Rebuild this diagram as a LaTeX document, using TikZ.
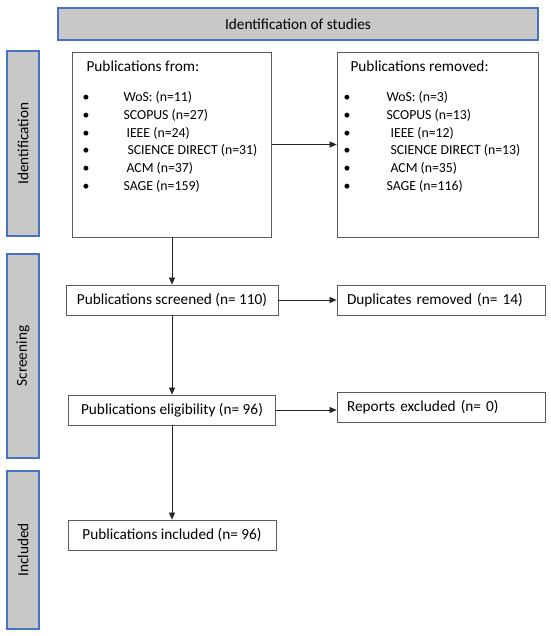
\documentclass[tikz,border=0pt]{standalone}
\usepackage{fontspec}
\setmainfont{Carlito}
\usetikzlibrary{arrows.meta}
\definecolor{barfill}{RGB}{200,200,200}
\definecolor{barline}{RGB}{68,114,196}
\definecolor{boxline}{RGB}{90,90,90}
\begin{document}
\begin{tikzpicture}[x=1pt,y=-1pt,>={Triangle[length=7pt,width=6pt]},
    every node/.style={font=\fontsize{15.3}{18}\selectfont},
    item/.style={font=\fontsize{13.8}{16}\selectfont,anchor=base west},
    bar/.style={draw=barline,fill=barfill,line width=1.2pt,inner sep=0pt},
    stage/.style={draw=boxline,line width=0.8pt,inner sep=0pt,minimum height=30},
    flow/.style={->,draw=black!85,line width=0.7pt}]
    \useasboundingbox (0,0) rectangle (550,636);
    % phase bars
    \node[bar,minimum width=480,minimum height=32] (head) at (298,24) {Identification of studies};
    \node[bar,minimum width=185,minimum height=32,rotate=90] (ident) at (23,143.5) {Identification};
    \node[bar,minimum width=204,minimum height=32,rotate=90] (screen) at (23,356) {Screening};
    \node[bar,minimum width=158,minimum height=32,rotate=90] (incl) at (23,550) {Included};
    % source and removed lists
    \node[stage,minimum width=199,minimum height=185] (src) at (172,144.5) {};
    \node[stage,minimum width=201,minimum height=185] (removed) at (437.5,144.5) {};
    \node[anchor=base west] (srctitle) at (83,72) {Publications from:};
    \node[anchor=base west] (remtitle) at (347,72) {Publications removed:};
    \foreach \lbl/\dx [count=\i] in {{WoS: (n=11)}/0,{SCOPUS (n=27)}/0,{IEEE (n=24)}/3,
      {SCIENCE DIRECT (n=31)}/4,{ACM (n=37)}/3,{SAGE (n=159)}/0}
    {
      \node[item,anchor=base] (srcdot\i) at (86,{101.5+17.8*(\i-1)}) {\textbullet};
      \node[item] (srcitem\i) at ({120+\dx},{101.5+17.8*(\i-1)}) {\lbl};
    }
    \foreach \lbl/\dx [count=\i] in {{WoS: (n=3)}/0,{SCOPUS (n=13)}/0,{IEEE (n=12)}/4,
      {SCIENCE DIRECT (n=13)}/4,{ACM (n=35)}/4,{SAGE (n=116)}/0}
    {
      \node[item,anchor=base] (remdot\i) at (347,{101.5+17.8*(\i-1)}) {\textbullet};
      \node[item] (remitem\i) at ({383+\dx},{101.5+17.8*(\i-1)}) {\lbl};
    }
    % screening and inclusion
    \node[stage,minimum width=212] (screened) at (172,300) {Publications screened (n= 110)};
    \node[stage,minimum width=208,text width=188,inner xsep=10,align=left] (dupl) at (441,300.5) {Duplicates removed (n= 14)};
    \node[stage,minimum width=207] (elig) at (172,410) {Publications eligibility (n= 96)};
    \node[stage,minimum width=208,text width=188,inner xsep=10,align=left] (excl) at (441,407) {Reports excluded (n= 0)};
    \node[stage,minimum width=208] (included) at (172,535) {Publications included (n= 96)};
    % arrows
    \draw[flow] (src.east) -- (removed.west);
    \draw[flow] (src.south) -- (screened.north);
    \draw[flow] (screened.east) -- (screened.east -| dupl.west);
    \draw[flow] (screened.south) -- (elig.north);
    \draw[flow] (elig.east) -- (elig.east -| excl.west);
    \draw[flow] (elig.south) -- (included.north);
\end{tikzpicture}
\end{document}
